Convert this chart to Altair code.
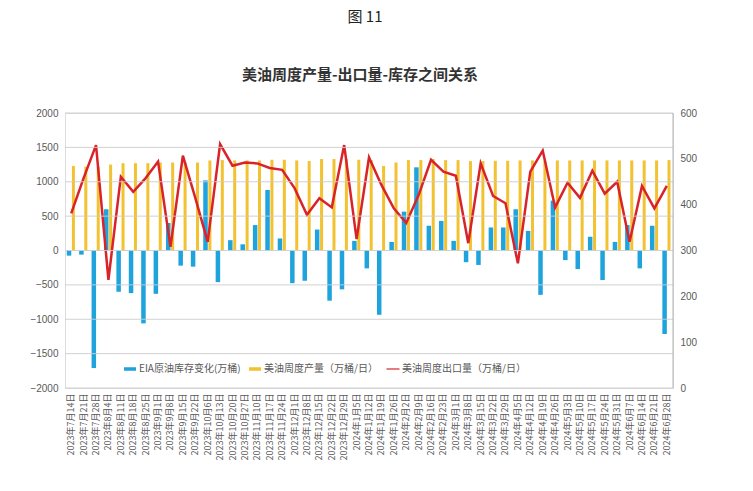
import altair as alt
import pandas as pd

dates = [
    "2023年7月14日", "2023年7月21日", "2023年7月28日", "2023年8月4日", "2023年8月11日",
    "2023年8月18日", "2023年8月25日", "2023年9月1日", "2023年9月8日", "2023年9月15日",
    "2023年9月22日", "2023年10月6日", "2023年10月13日", "2023年10月20日", "2023年10月27日",
    "2023年11月10日", "2023年11月17日", "2023年11月24日", "2023年12月1日", "2023年12月8日",
    "2023年12月15日", "2023年12月22日", "2023年12月29日", "2024年1月5日", "2024年1月12日",
    "2024年1月19日", "2024年1月26日", "2024年2月2日", "2024年2月9日", "2024年2月16日",
    "2024年2月23日", "2024年3月1日", "2024年3月8日", "2024年3月15日", "2024年3月22日",
    "2024年3月29日", "2024年4月5日", "2024年4月12日", "2024年4月19日", "2024年4月26日",
    "2024年5月3日", "2024年5月10日", "2024年5月17日", "2024年5月24日", "2024年5月31日",
    "2024年6月7日", "2024年6月14日", "2024年6月21日", "2024年6月28日",
]

# EIA crude inventory change (万桶)
inventory = [
    -75, -60, -1710, 600, -600, -620, -1060, -630, 400, -220,
    -235, 1020, -460, 150, 90, 370, 880, 175, -475, -440,
    305, -730, -565, 140, -260, -935, 125, 565, 1210, 360,
    430, 140, -170, -210, 335, 335, 600, 285, -645, 725,
    -140, -270, 200, -430, 125, 370, -260, 360, -1215,
]

# US weekly crude production (万桶/日)
production = [
    1230, 1220, 1220, 1250, 1270, 1270, 1270, 1280, 1280, 1280,
    1280, 1310, 1315, 1310, 1310, 1310, 1320, 1320, 1310, 1300,
    1330, 1330, 1330, 1320, 1315, 1230, 1280, 1315, 1315, 1330,
    1315, 1315, 1300, 1300, 1305, 1305, 1310, 1310, 1310, 1310,
    1310, 1310, 1310, 1310, 1310, 1310, 1310, 1310, 1315,
]

# US weekly crude exports (万桶/日)
exports = [
    381, 458, 530, 236, 461, 428, 458, 494, 308, 507,
    415, 319, 532, 485, 492, 490, 480, 476, 436, 378,
    414, 394, 530, 325, 503, 443, 392, 360, 421, 498,
    472, 463, 316, 490, 419, 403, 272, 472, 518, 394,
    448, 415, 474, 424, 450, 319, 441, 392, 441,
]

left_ticks = [-2000, -1500, -1000, -500, 0, 500, 1000, 1500, 2000]
right_ticks = [0, 100, 200, 300, 400, 500, 600]

series_names = ["EIA原油库存变化(万桶)", "美油周度产量（万桶/日）", "美油周度出口量（万桶/日）"]
series_colors = ["#1fa3dc", "#f2c230", "#d9232a"]

df = pd.DataFrame({"date": dates, "inv": inventory, "prod": production, "exp": exports})

FONT = "Noto Sans CJK SC"
GREY = "#595959"

x_enc = alt.X(
    "date:N", sort=dates, title=None,
    scale=alt.Scale(paddingInner=0, paddingOuter=0),
    axis=alt.Axis(labelAngle=270, labelAlign="right", labelBaseline="middle",
                  labelFontSize=9, labelColor=GREY, labelFont=FONT, labelPadding=5,
                  domain=False, ticks=False, labelOverlap=False, grid=False),
)

left_scale = alt.Scale(domain=[-2000, 2000], nice=False)
right_scale = alt.Scale(domain=[0, 600], nice=False)

left_axis = alt.Axis(values=left_ticks, format="d",
                     labelFontSize=10, labelColor=GREY, labelFont="Liberation Sans",
                     domain=False, ticks=False, grid=False,
                     labelPadding=7, title=None, orient="left")
right_axis = alt.Axis(values=right_ticks, labelFontSize=10,
                      labelColor=GREY, labelFont="Liberation Sans", domain=False,
                      ticks=False, grid=False, labelPadding=7,
                      title=None, orient="right")

base = alt.Chart(df)

bar_inv = base.mark_bar(size=4.5, xOffset=-2.2, color=series_colors[0]).encode(
    x=x_enc,
    y=alt.Y("inv:Q", scale=left_scale, axis=left_axis),
)
bar_prod = base.mark_bar(size=3, xOffset=2.2, color=series_colors[1]).encode(
    x=x_enc,
    y=alt.Y("prod:Q", scale=left_scale, axis=None),
)

line_exp = base.mark_line(color=series_colors[2], strokeWidth=2.5).encode(
    x=x_enc,
    y=alt.Y("exp:Q", scale=right_scale, axis=right_axis),
)

leg = alt.Legend(orient="none", legendX=60, legendY=251, direction="horizontal",
                 title=None, labelFontSize=10, labelColor=GREY, labelFont=FONT,
                 columnPadding=8, symbolStrokeWidth=0, labelLimit=300)
legend_df = pd.DataFrame({"series": series_names, "v": [-5000, -5000, -5000], "date": [dates[0]] * 3})
legend_layer = alt.Chart(legend_df).mark_point(filled=True, clip=True, size=100, opacity=1).encode(
    x=alt.X("date:N", sort=dates),
    y=alt.Y("v:Q", scale=left_scale, axis=None),
    color=alt.Color("series:N", scale=alt.Scale(domain=series_names, range=series_colors), legend=leg),
    shape=alt.Shape("series:N", scale=alt.Scale(
        domain=series_names,
        range=["M-1.2,-0.35H1.2V0.35H-1.2Z", "M-1.2,-0.35H1.2V0.35H-1.2Z", "M-1.3,-0.12H1.3V0.12H-1.3Z"]),
        legend=leg),
)

text_df = pd.DataFrame({"t": ["图 11", "美油周度产量-出口量-库存之间关系"],
                        "kind": ["fig", "title"]})
fig_label = alt.Chart(text_df).transform_filter(alt.datum.kind == "fig").mark_text(
    fontSize=15, font=FONT, color="#222222").encode(
    text="t:N", x=alt.value(300), y=alt.value(-96)
)
title_label = alt.Chart(text_df).transform_filter(alt.datum.kind == "title").mark_text(
    fontSize=15, font=FONT, fontWeight="bold", color="#333333").encode(
    text="t:N", x=alt.value(295), y=alt.value(-38)
)

# gridlines drawn as rules on top (thin, light)
grid_df = pd.DataFrame({"g": left_ticks})
grid = alt.Chart(grid_df).mark_rule(color="#cccccc", strokeWidth=1, opacity=0.9).encode(
    y=alt.Y("g:Q", scale=left_scale, axis=None),
    x=alt.value(0), x2=alt.value(608),
)
axis_df = pd.DataFrame({"lo": [right_ticks[0]], "hi": [right_ticks[-1]]})
right_line = alt.Chart(axis_df).mark_rule(color="#b5b5b5", strokeWidth=1).encode(
    y=alt.Y("lo:Q", scale=right_scale, axis=None),
    y2="hi:Q",
    x=alt.value(608),
)

chart = alt.layer(bar_inv, bar_prod, line_exp, legend_layer, fig_label, title_label,
                  grid, right_line).resolve_scale(
    y="independent"
).properties(
    width=608, height=275,
    padding={"left": 65, "top": 113, "right": 80, "bottom": 103},
    autosize=alt.AutoSizeParams(type="none"),
).configure_view(stroke=None, fill=None).configure(background="white")

chart.save("out.html", embed_options={"renderer": "svg", "actions": False})
